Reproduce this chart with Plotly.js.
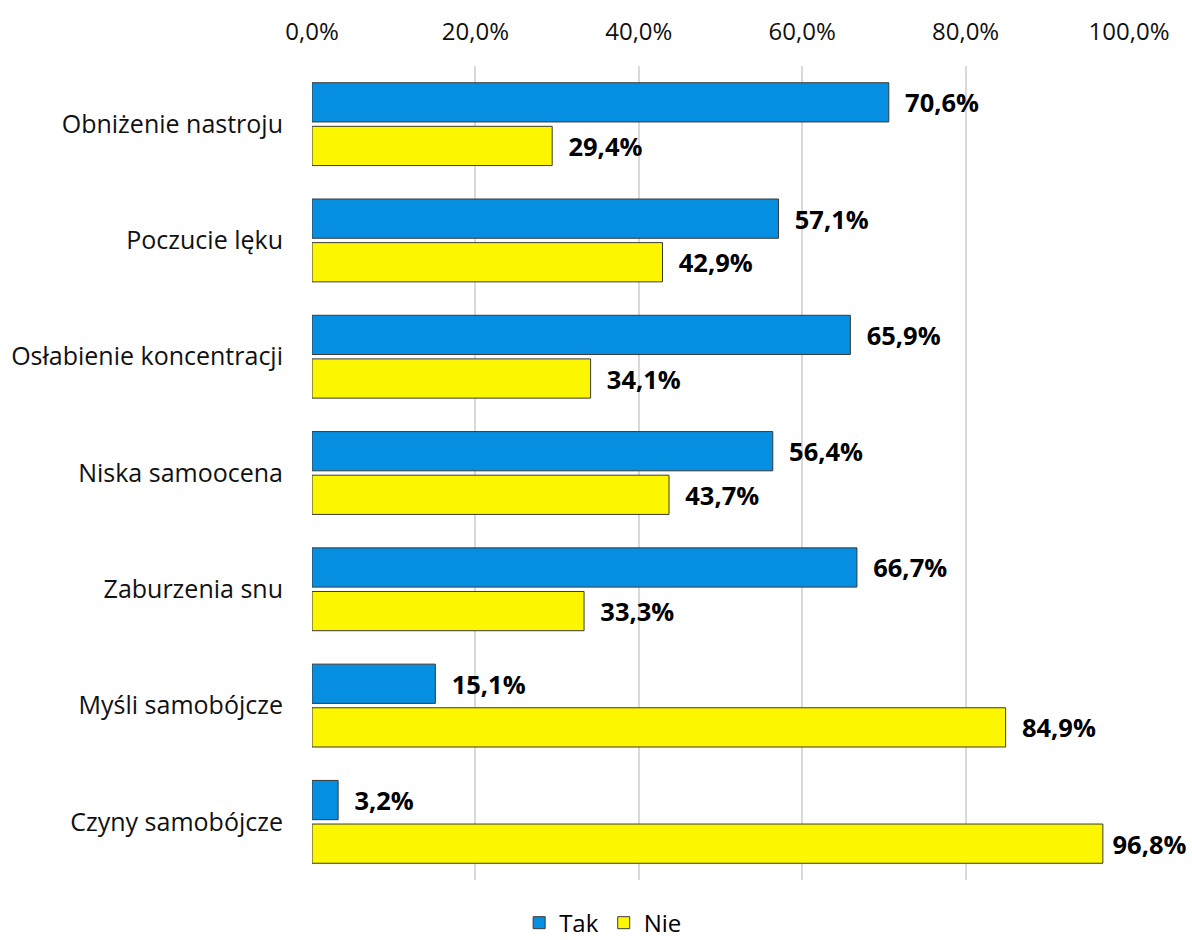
<!DOCTYPE html>
<html><head><meta charset="utf-8">
<script src="https://cdn.plot.ly/plotly-3.0.1.min.js"></script>
<style>html,body{margin:0;padding:0;background:#fff}</style>
</head><body>
<div id="chart" style="width:1192px;height:940px"></div>
<script>
const categories = ["Obniżenie nastroju","Poczucie lęku","Osłabienie koncentracji","Niska samoocena","Zaburzenia snu","Myśli samobójcze","Czyny samobójcze"];
const tak = [70.6,57.1,65.9,56.4,66.7,15.1,3.2];
const nie = [29.4,42.9,34.1,43.7,33.3,84.9,96.8];
const seriesNames = ["Tak","Nie"];
const FONT = '"Open Sans", "Noto Sans", sans-serif';
function mk(name, vals, color){
  return {type:'bar', orientation:'h', name:name, y:categories, x:vals,
    marker:{color:color, line:{color:'#3a3a3a', width:1}},
    text: vals.map(v=>v.toFixed(1).replace('.',',')+'%'),
    texttemplate: vals.map(v=> v>95 ? '\u00a0%{text}' : '\u00a0\u00a0%{text}'),
    textposition:'outside', cliponaxis:false,
    textfont:{family:FONT, size:25.5, color:'#000', weight:700}};
}
const data=[mk(seriesNames[0],tak,'#068ee0'), mk(seriesNames[1],nie,'#fcf600')];
const layout={
  width:1192,height:940,
  margin:{l:312,r:63,t:66,b:60},
  font:{family:FONT,size:24,color:'#000'},
  separators:',.',
  barmode:'group', bargap:0.25, bargroupgap:0.1,
  xaxis:{side:'top', range:[0,100], dtick:20, tickformat:'.1f', ticksuffix:'%', automargin:false,
    showgrid:true, gridcolor:'#d9d9d9', gridwidth:1.5, zeroline:false, showline:false, ticks:'', ticklabelstandoff:20,
    tickfont:{size:24, color:'#111'}},
  yaxis:{autorange:'reversed', automargin:false, showgrid:false, zeroline:false, showline:false, ticks:'', ticklabelstandoff:28,
    tickfont:{size:25, color:'#111'}},
  legend:{orientation:'h', xref:'container', yref:'container', x:0.506, xanchor:'center', y:0.018, yanchor:'middle', font:{size:24}, traceorder:'normal'},
  showlegend:true, plot_bgcolor:'#fff', paper_bgcolor:'#fff'
};
Plotly.newPlot('chart',data,layout,{displayModeBar:false});
</script>
</body></html>
